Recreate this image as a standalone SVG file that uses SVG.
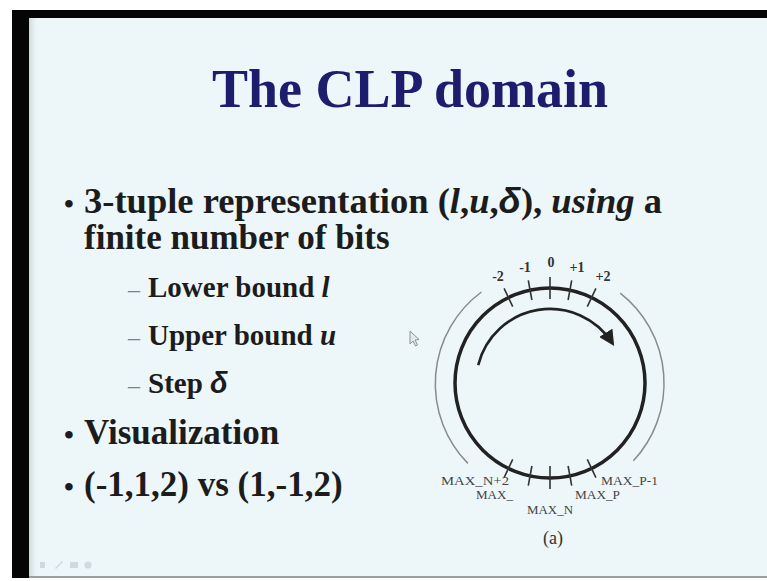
<svg xmlns="http://www.w3.org/2000/svg" width="767" height="581" viewBox="0 0 767 581">
  <defs>
    <style>
      .title { font-family: "Liberation Serif", "Times New Roman", serif; font-weight: bold; font-size: 54px; fill: #1d1d6e; }
      .l1 { font-family: "Liberation Serif", "Times New Roman", serif; font-weight: bold; font-size: 35px; fill: #1c1c1c; }
      .l2 { font-family: "Liberation Serif", "Times New Roman", serif; font-weight: bold; font-size: 29px; fill: #1c1c1c; }
      .bul { font-family: "Liberation Serif", serif; font-weight: bold; font-size: 28px; fill: #1c1c1c; }
      .dash { font-family: "Liberation Serif", serif; font-size: 24px; fill: #808080; }
      .it { font-style: italic; }
      .sym { font-family: "Liberation Sans", "DejaVu Sans", sans-serif; font-style: italic; font-weight: bold; }
      .num { font-family: "Liberation Serif", serif; font-weight: bold; font-size: 14px; fill: #333; }
      .mx { font-family: "Liberation Serif", serif; font-size: 12px; fill: #444; }
      .cap { font-family: "Liberation Serif", serif; font-size: 18px; fill: #333; }
      .ring { fill: none; stroke: #222; stroke-width: 3.5; }
      .outer { fill: none; stroke: #8a8a8a; stroke-width: 1.5; }
      .tick { stroke: #333; stroke-width: 1.6; }
      .flow { fill: none; stroke: #222; stroke-width: 2.6; }
    </style>
    <marker id="head" viewBox="0 0 10 10" refX="8" refY="5" markerWidth="6" markerHeight="6" orient="auto" markerUnits="strokeWidth">
      <path d="M0,0 L10,5 L0,10 Z" fill="#222"/>
    </marker>
    <linearGradient id="edge" x1="0" y1="0" x2="1" y2="0">
      <stop offset="0" stop-color="#cfd6d8"/>
      <stop offset="1" stop-color="#edf7fa" stop-opacity="0"/>
    </linearGradient>
  </defs>

  <!-- frame: white margin, black border, slide area -->
  <rect x="0" y="0" width="767" height="581" fill="#ffffff"/>
  <rect x="12" y="10" width="755" height="568" fill="#050505"/>
  <rect x="29" y="18" width="738" height="558" fill="#edf7fa"/>
  <rect x="29" y="18" width="10" height="558" fill="url(#edge)"/>
  <rect x="29" y="576" width="738" height="2" fill="#9aa0a2"/>

  <!-- heading -->
  <text class="title" x="410" y="107" text-anchor="middle">The CLP domain</text>

  <!-- bullet list -->
  <g id="bullets">
    <text class="bul" x="64" y="213">•</text>
    <text class="l1" x="84" y="213" textLength="578" lengthAdjust="spacingAndGlyphs">3-tuple representation (<tspan class="it">l</tspan>,<tspan class="it">u</tspan>,<tspan class="sym">δ</tspan>), <tspan class="it">using</tspan> a</text>
    <text class="l1" x="84" y="249">finite number of bits</text>

    <text class="dash" x="128" y="297">–</text>
    <text class="l2" x="148" y="297">Lower bound <tspan class="it">l</tspan></text>
    <text class="dash" x="128" y="345">–</text>
    <text class="l2" x="148" y="345">Upper bound <tspan class="it">u</tspan></text>
    <text class="dash" x="128" y="393">–</text>
    <text class="l2" x="148" y="393">Step <tspan class="sym">δ</tspan></text>

    <text class="bul" x="64" y="444">•</text>
    <text class="l1" x="84" y="444">Visualization</text>
    <text class="bul" x="64" y="496">•</text>
    <text class="l1" x="84" y="496">(-1,1,2) vs (1,-1,2)</text>
  </g>

  <!-- pointer -->
  <path d="M410,331 L410,344 L413,341 L415.5,346 L417.5,345 L415,340 L419,339.5 Z" fill="#e4eaec" stroke="#8a9296" stroke-width="1"/>

  <!-- number circle -->
  <g id="ring">
    <circle class="ring" cx="550" cy="383" r="95"/>
    <!-- outer guide arcs -->
    <path class="outer" d="M 467.9,463.4 A 114 114 0 0 1 481.4,292" />
    <path class="outer" d="M 620.2,293.2 A 114 114 0 0 1 633.4,460.8" />
  </g>

  <g id="ticks">
    <!-- top ticks: -2 -1 0 +1 +2 -->
    <line class="tick" x1="512.7" y1="306.6" x2="504.1" y2="288.4"/>
    <line class="tick" x1="531.9" y1="300.0" x2="528.3" y2="280.3"/>
    <line class="tick" x1="550" y1="299" x2="550" y2="277"/>
    <line class="tick" x1="568.1" y1="300.0" x2="571.7" y2="280.3"/>
    <line class="tick" x1="587.3" y1="306.6" x2="595.9" y2="288.4"/>
    <!-- bottom ticks -->
    <line class="tick" x1="512.7" y1="459.4" x2="504.1" y2="477.6"/>
    <line class="tick" x1="531.9" y1="466.0" x2="528.3" y2="485.7"/>
    <line class="tick" x1="550" y1="466" x2="550" y2="489"/>
    <line class="tick" x1="568.1" y1="466.0" x2="571.7" y2="485.7"/>
    <line class="tick" x1="587.3" y1="459.4" x2="595.9" y2="477.6"/>
  </g>

  <g id="labels">
    <text class="num" x="498" y="281" text-anchor="middle">-2</text>
    <text class="num" x="525" y="272" text-anchor="middle">-1</text>
    <text class="num" x="551" y="267" text-anchor="middle">0</text>
    <text class="num" x="577" y="272" text-anchor="middle">+1</text>
    <text class="num" x="603" y="281" text-anchor="middle">+2</text>

    <text class="mx" x="441" y="485" textLength="68" lengthAdjust="spacingAndGlyphs">MAX_N+2</text>
    <text class="mx" x="476" y="499" textLength="37" lengthAdjust="spacingAndGlyphs">MAX_</text>
    <text class="mx" x="527" y="514" textLength="46" lengthAdjust="spacingAndGlyphs">MAX_N</text>
    <text class="mx" x="575" y="499" textLength="45" lengthAdjust="spacingAndGlyphs">MAX_P</text>
    <text class="mx" x="601" y="485" textLength="57" lengthAdjust="spacingAndGlyphs">MAX_P-1</text>
    <text class="cap" x="553" y="544" text-anchor="middle">(a)</text>
  </g>

  <!-- direction of counting -->
  <g id="connectors">
    <path class="flow" d="M 478.2,365.1 A 74 74 0 0 1 612.5,343.3" marker-end="url(#head)"/>
  </g>

  <!-- faint slide navigation icons -->
  <g fill="#c9d2d6" opacity="0.8">
    <rect x="40" y="562" width="5" height="6"/>
    <path d="M55,568 L62,561 L63,562 L56,569 Z"/>
    <rect x="70" y="562" width="8" height="6"/>
    <circle cx="88" cy="565" r="3.5"/>
  </g>
</svg>
